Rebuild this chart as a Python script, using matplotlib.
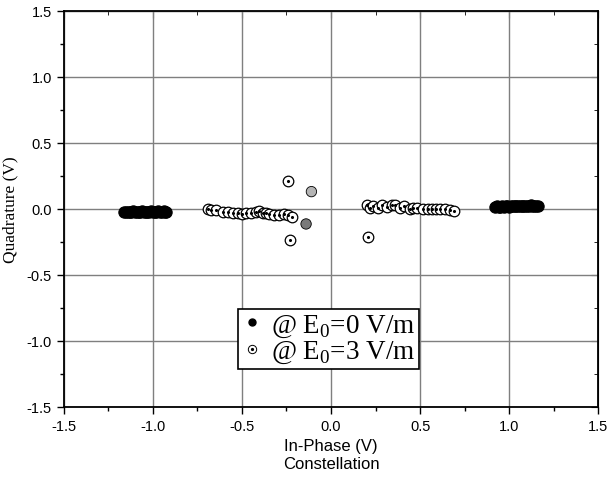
import matplotlib
matplotlib.use('Agg')
import matplotlib.pyplot as plt
from matplotlib.lines import Line2D

plt.rcParams['mathtext.fontset'] = 'custom'
plt.rcParams['mathtext.rm'] = 'Liberation Serif'

# E0 = 0 V/m (filled black)
e0_x = [-1.16, -1.15, -1.14, -1.13, -1.12, -1.11, -1.10, -1.09, -1.08, -1.07, -1.06, -1.05, -1.04,
        -1.03, -1.02, -1.01, -1.00, -0.99, -0.98, -0.97, -0.96, -0.95, -0.94, -0.93, -0.925,
        0.92, 0.93, 0.94, 0.95, 0.96, 0.97, 0.98, 0.99, 1.00, 1.01, 1.02, 1.03, 1.04,
        1.05, 1.06, 1.07, 1.08, 1.09, 1.10, 1.11, 1.12, 1.13, 1.14, 1.15, 1.16]
e0_y = [-0.024, -0.022, -0.025, -0.021, -0.023, -0.020, -0.024, -0.022, -0.021, -0.023, -0.020, -0.022, -0.024,
        -0.021, -0.023, -0.019, -0.022, -0.024, -0.021, -0.020, -0.023, -0.022, -0.020, -0.021, -0.022,
        0.016, 0.018, 0.015, 0.017, 0.019, 0.016, 0.018, 0.020, 0.017, 0.019, 0.021, 0.018, 0.022,
        0.020, 0.019, 0.023, 0.021, 0.024, 0.020, 0.022, 0.025, 0.021, 0.023, 0.022, 0.024]

# E0 = 3 V/m (open circles)
e3_x = [-0.691, -0.676, -0.644, -0.607, -0.579, -0.551, -0.523, -0.501, -0.477, -0.449,
        -0.421, -0.402, -0.384, -0.365, -0.346, -0.318, -0.291, -0.263, -0.244, -0.220,
        -0.240, -0.231,
        0.201, 0.219, 0.238, 0.266, 0.285, 0.313, 0.341, 0.360, 0.388, 0.410,
        0.444, 0.462, 0.485, 0.518, 0.547, 0.566, 0.590, 0.612, 0.640, 0.669, 0.691,
        0.210]
e3_y = [0.000, -0.010, -0.013, -0.023, -0.028, -0.030, -0.030, -0.036, -0.030, -0.033,
        -0.023, -0.020, -0.030, -0.033, -0.040, -0.045, -0.045, -0.038, -0.048, -0.064,
        0.209, -0.235,
        0.025, 0.008, 0.020, 0.008, 0.028, 0.015, 0.025, 0.028, 0.008, 0.020,
        0.002, 0.008, 0.008, -0.005, 0.000, -0.005, 0.000, 0.002, -0.005, -0.010, -0.018,
        -0.212]

# two grey transition points
grey_x = [-0.11, -0.14]
grey_y = [0.13, -0.115]
grey_c = ['#b4b4b4', '#7a7a7a']

ticks = [-1.5, -1.0, -0.5, 0.0, 0.5, 1.0, 1.5]
minor_ticks = [-1.25, -0.75, -0.25, 0.25, 0.75, 1.25]
tick_labels = ['-1.5', '-1.0', '-0.5', '0.0', '0.5', '1.0', '1.5']

fig = plt.figure(figsize=(6.13, 4.89), dpi=100)
ax = fig.add_axes([0.104, 0.166, 0.872, 0.810])

ax.set_xlim(-1.5, 1.5)
ax.set_ylim(-1.5, 1.5)
ax.set_xticks(ticks)
ax.set_yticks(ticks)
ax.set_xticklabels(tick_labels, family='Liberation Sans', fontsize=10.5)
ax.set_yticklabels(tick_labels, family='Liberation Sans', fontsize=10.5)
ax.set_xticks(minor_ticks, minor=True)
ax.set_yticks(minor_ticks, minor=True)
ax.tick_params(which='major', direction='out', length=5, width=1, color='black')
ax.tick_params(which='minor', direction='out', length=3, width=1, color='black')
ax.grid(True, which='major', color='#7f7f7f', linewidth=1)
ax.set_axisbelow(True)
for s in ax.spines.values():
    s.set_linewidth(1.3)

# mirrored inward ticks on top and right
top = ax.secondary_xaxis('top')
top.set_xticks(ticks)
top.set_xticks(minor_ticks, minor=True)
top.tick_params(which='both', direction='in', labeltop=False)
top.tick_params(which='major', length=5)
top.tick_params(which='minor', length=3)
right = ax.secondary_yaxis('right')
right.set_yticks(ticks)
right.set_yticks(minor_ticks, minor=True)
right.tick_params(which='both', direction='in', labelright=False)
right.tick_params(which='major', length=5)
right.tick_params(which='minor', length=3)

ax.scatter(e0_x, e0_y, s=66, c='black', edgecolors='black', linewidths=0.8, zorder=3)
ax.scatter(e3_x, e3_y, s=58, c='white', edgecolors='black', linewidths=0.9, zorder=3)
ax.scatter(e3_x, e3_y, s=1.5, c='black', zorder=4)
ax.scatter(grey_x, grey_y, s=56, c=grey_c, edgecolors='black', linewidths=0.6, zorder=3)

ax.set_xlabel('In-Phase (V)\nConstellation', family='Liberation Sans', fontsize=12, labelpad=4)
ax.set_ylabel('Quadrature (V)', family='Liberation Serif', fontsize=12.5, labelpad=6)

h0 = Line2D([], [], linestyle='none', marker='o', markersize=5, color='black')
h3a = Line2D([], [], linestyle='none', marker='o', markersize=6, markerfacecolor='white',
             markeredgecolor='black', markeredgewidth=0.7)
h3b = Line2D([], [], linestyle='none', marker='o', markersize=1.3, color='black')
leg = ax.legend([h0, (h3a, h3b)], [r'@ E$_0$=0 V/m', r'@ E$_0$=3 V/m'],
                loc='upper left', bbox_to_anchor=(0.326, 0.248),
                prop={'family': 'Liberation Serif', 'size': 19.5},
                frameon=True, fancybox=False, edgecolor='black', framealpha=1,
                handlelength=0.7, handletextpad=0.35, borderpad=0.15,
                labelspacing=0.0, borderaxespad=0)
leg.get_frame().set_linewidth(1.2)

fig.savefig('out.png', dpi=100)
